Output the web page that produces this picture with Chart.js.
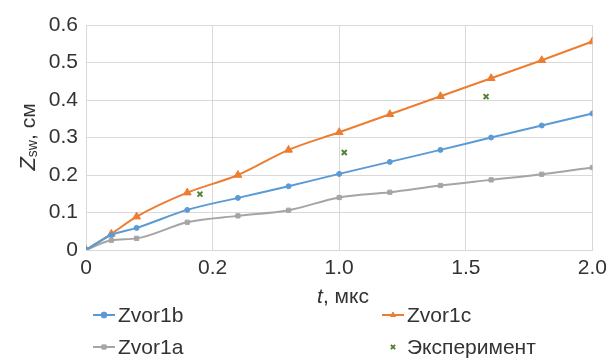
<!DOCTYPE html>
<html>
<head>
<meta charset="utf-8">
<script src="https://cdn.jsdelivr.net/npm/chart.js@4"></script>
<style>
  html, body { margin: 0; padding: 0; background: #fff; }
  #wrap { width: 613px; height: 358px; position: relative; }
</style>
</head>
<body>
<div id="wrap"><canvas id="myChart"></canvas></div>
<script>
const times = [0, 0.1, 0.2, 0.4, 0.6, 0.8, 1.0, 1.2, 1.4, 1.6, 1.8, 2.0];
const zvor1b = [0, 0.04, 0.059, 0.107, 0.139, 0.17, 0.203, 0.235, 0.267, 0.3, 0.332, 0.364];
const zvor1c = [0, 0.043, 0.089, 0.153, 0.2, 0.267, 0.314, 0.362, 0.41, 0.458, 0.506, 0.556];
const zvor1a = [0, 0.026, 0.031, 0.074, 0.091, 0.106, 0.14, 0.154, 0.172, 0.187, 0.202, 0.22];
const expTimes = [0.45, 1.02, 1.58];
const expValues = [0.149, 0.26, 0.409];
const xTickLabels = ['0', '0.2', '1.0', '1.5', '2.0'];
const yTickLabels = ['0', '0.1', '0.2', '0.3', '0.4', '0.5', '0.6'];

const FONT = '"Liberation Sans", Arial, sans-serif';
const TEXT = '#333333';

function pts(xs, ys) {
  return xs.map((x, i) => ({ x: x, y: ys[i] }));
}

// draws axis titles and the two-column legend
const extras = {
  id: 'extras',
  afterDraw(chart) {
    const c = chart.ctx;
    c.save();
    c.fillStyle = TEXT;
    c.textBaseline = 'alphabetic';

    // y title: Z_sw, см
    c.translate(35, 137);
    c.rotate(-Math.PI / 2);
    const parts = [
      { t: 'Z', f: 'italic 22px ' + FONT, dy: 0 },
      { t: 'sw', f: '14px ' + FONT, dy: 2 },
      { t: ', см', f: '21px ' + FONT, dy: 0 }
    ];
    let w = 0;
    parts.forEach(p => { c.font = p.f; w += c.measureText(p.t).width; });
    let x = -w / 2;
    parts.forEach(p => {
      c.font = p.f;
      c.fillText(p.t, x, p.dy);
      x += c.measureText(p.t).width;
    });
    c.setTransform(1, 0, 0, 1, 0, 0);

    // x title: t, мкс
    const xp = [
      { t: 't', f: 'italic 21px ' + FONT },
      { t: ', мкс', f: '21px ' + FONT }
    ];
    w = 0;
    xp.forEach(p => { c.font = p.f; w += c.measureText(p.t).width; });
    x = 343 - w / 2;
    xp.forEach(p => {
      c.font = p.f;
      c.fillText(p.t, x, 303);
      x += c.measureText(p.t).width;
    });

    // legend
    const spots = [[93, 315], [382, 315], [93, 347], [382, 347]];
    chart.data.datasets.forEach((ds, i) => {
      const [lx, ly] = spots[i];
      c.strokeStyle = ds.borderColor;
      c.fillStyle = ds.borderColor;
      if (ds.showLine !== false) {
        c.lineWidth = 2;
        c.beginPath();
        c.moveTo(lx, ly);
        c.lineTo(lx + 22, ly);
        c.stroke();
      }
      c.lineWidth = ds.pointBorderWidth || 1;
      Chart.helpers.drawPoint(c, {
        pointStyle: ds.pointStyle,
        radius: ds.legendRadius,
        rotation: 0,
        borderWidth: ds.pointBorderWidth || 1
      }, lx + 11, ly);
      c.fillStyle = TEXT;
      c.font = '21px ' + FONT;
      c.textBaseline = 'middle';
      c.fillText(ds.label, lx + 25, ly + 1);
    });
    c.restore();
  }
};

function lineSet(label, data, color, style, r) {
  return {
    label: label,
    data: pts(times, data),
    borderColor: color,
    backgroundColor: color,
    pointBackgroundColor: color,
    pointBorderColor: color,
    pointStyle: style,
    pointRadius: r,
    pointBorderWidth: 1,
    legendRadius: 3,
    borderWidth: 2,
    cubicInterpolationMode: 'monotone',
    showLine: true
  };
}

const ctx = document.getElementById('myChart');

new Chart(ctx, {
  type: 'scatter',
  data: {
    datasets: [
      lineSet('Zvor1b', zvor1b, '#5b9bd5', 'circle', 2.5),
      lineSet('Zvor1c', zvor1c, '#ed7d31', 'triangle', 4.5),
      lineSet('Zvor1a', zvor1a, '#a5a5a5', 'rect', 3),
      {
        label: 'Эксперимент',
        data: pts(expTimes, expValues),
        borderColor: '#548235',
        backgroundColor: '#548235',
        pointStyle: 'crossRot',
        pointRadius: 3.5,
        pointBorderWidth: 2,
        legendRadius: 3,
        showLine: false
      }
    ]
  },
  options: {
    responsive: true,
    maintainAspectRatio: false,
    animation: false,
    layout: { padding: { left: 0, right: 19, top: 25, bottom: 0 } },
    plugins: {
      legend: { display: false },
      tooltip: { enabled: false }
    },
    scales: {
      x: {
        type: 'linear',
        min: 0,
        max: 2,
        afterFit(s) { s.height = 108; },
        ticks: {
          stepSize: 0.5,
          padding: 6,
          color: TEXT,
          font: { family: FONT, size: 21 },
          maxRotation: 0,
          callback: (v, i) => xTickLabels[i]
        },
        grid: { color: '#d9d9d9', lineWidth: 1, drawTicks: false },
        border: { color: '#d9d9d9' }
      },
      y: {
        min: 0,
        max: 0.6,
        afterFit(s) { s.width = 86; },
        ticks: {
          stepSize: 0.1,
          padding: 8,
          color: TEXT,
          font: { family: FONT, size: 21 },
          callback: (v, i) => yTickLabels[i]
        },
        grid: { color: '#d9d9d9', lineWidth: 1, drawTicks: false },
        border: { color: '#d9d9d9' }
      }
    }
  },
  plugins: [extras]
});
</script>
</body>
</html>
